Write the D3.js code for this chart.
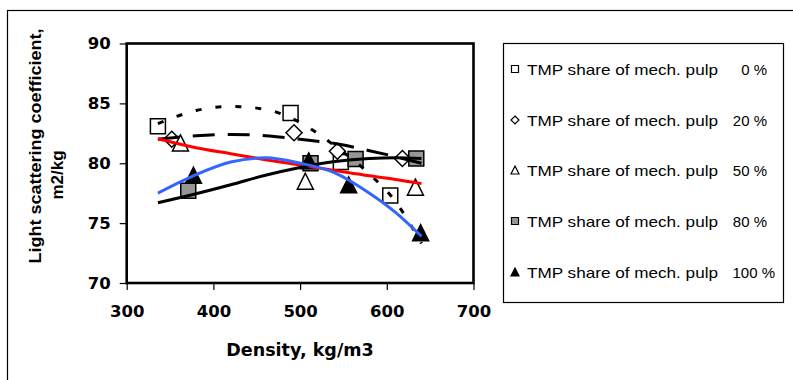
<!DOCTYPE html>
<html><head><meta charset="utf-8">
<script src="https://cdn.jsdelivr.net/npm/d3@7"></script>
<style>body{margin:0;background:#fff}svg{display:block}</style>
</head><body><svg id="c" width="793" height="380"></svg>
<script>
// ---- data ----
const xTicks = [300, 400, 500, 600, 700];
const yTicks = [70, 75, 80, 85, 90];
const seriesNames = ["TMP share of mech. pulp", "TMP share of mech. pulp", "TMP share of mech. pulp", "TMP share of mech. pulp", "TMP share of mech. pulp"];
const seriesShares = ["0 %", "20 %", "50 %", "80 %", "100 %"];

const density0 = [336, 489, 547, 604];
const scatter0 = [83.1, 84.2, 80.1, 77.3];
const density20 = [352, 493, 543, 618];
const scatter20 = [82.0, 82.55, 81.0, 80.4];
const density50 = [362, 506, 633];
const scatter50 = [81.7, 78.5, 78.0];
const density80 = [371, 512, 564, 634];
const scatter80 = [77.7, 80.0, 80.35, 80.4];
const density100 = [377, 510, 556, 639];
const scatter100 = [79.0, 80.2, 78.2, 74.2];

// trend lines
const trendX = [336, 380, 420, 460, 500, 540, 580, 610, 640];
const trend0 = [83.3, 84.4, 84.75, 84.5, 83.4, 81.45, 79.1, 76.8, 73.3];
const trend20 = [82.0, 82.3, 82.4, 82.3, 82.0, 81.65, 81.05, 80.55, 80.0];
const trend50 = [82.05, 81.3, 80.8, 80.3, 79.85, 79.4, 78.95, 78.65, 78.3];
const trend80 = [76.7, 77.45, 78.2, 79.0, 79.65, 80.15, 80.4, 80.45, 80.4];
const trend100 = [77.5, 79.05, 80.1, 80.45, 80.0, 79.2, 77.5, 75.9, 73.9];

const svg = d3.select("#c");
const x = d3.scaleLinear().domain([300, 700]).range([126.7, 473.5]);
const y = d3.scaleLinear().domain([70, 90]).range([283, 43.5]);

// outer chart frame
svg.append("rect").attr("x", 7.5).attr("y", 10.5).attr("width", 820).attr("height", 420)
  .attr("fill", "#fff").attr("stroke", "#000").attr("stroke-width", 1.2);

// axes
const ax = svg.append("g").attr("transform", "translate(0,283)")
  .call(d3.axisBottom(x).tickValues(xTicks).tickSize(7).tickPadding(15).tickFormat(d3.format("d")));
const ay = svg.append("g").attr("transform", "translate(126.7,0)")
  .call(d3.axisLeft(y).tickValues(yTicks).tickSize(7).tickPadding(9).tickFormat(d3.format("d")));
[ax, ay].forEach(g => {
  g.select(".domain").remove();
  g.selectAll("line").attr("stroke", "#000").attr("stroke-width", 1.2);
  g.selectAll("text").attr("fill", "#000").style("font-family", "'DejaVu Sans'")
    .style("font-weight", "bold").style("font-size", "16.5px");
});

// plot frame
svg.append("rect").attr("x", x(300)).attr("y", y(90))
  .attr("width", x(700) - x(300)).attr("height", y(70) - y(90))
  .attr("fill", "none").attr("stroke", "#000").attr("stroke-width", 2.6);

// axis titles
svg.append("text").attr("x", 300).attr("y", 356).attr("text-anchor", "middle")
  .style("font-family", "'DejaVu Sans'").style("font-weight", "bold").style("font-size", "17.5px")
  .text("Density, kg/m3");
svg.append("text").attr("transform", "translate(35,146) rotate(-90)").attr("text-anchor", "middle")
  .attr("dominant-baseline", "central")
  .attr("textLength", 235).attr("lengthAdjust", "spacingAndGlyphs")
  .style("font-family", "'Liberation Sans'").style("font-weight", "bold").style("font-size", "17px")
  .text("Light scattering coefficient,");
svg.append("text").attr("transform", "translate(57,175) rotate(-90)").attr("text-anchor", "middle")
  .attr("dominant-baseline", "central")
  .style("font-family", "'Liberation Sans'").style("font-weight", "bold").style("font-size", "17px")
  .text("m2/kg");

// marker shapes
function shapePath(kind, s) {
  const h = s / 2;
  if (kind === "square") return `M${-h},${-h}H${h}V${h}H${-h}Z`;
  if (kind === "diamond") return `M0,${-h}L${h},0L0,${h}L${-h},0Z`;
  return `M0,${-h}L${h},${h}L${-h},${h}Z`;
}
const series = [
  {xs: density0, ys: scatter0, kind: "square", fill: "#fff", trend: trend0, color: "#000", dash: "6,14", w: 3},
  {xs: density20, ys: scatter20, kind: "diamond", fill: "#fff", trend: trend20, color: "#000", dash: "22,13", w: 3},
  {xs: density50, ys: scatter50, kind: "triangle", fill: "#fff", trend: trend50, color: "#ff0000", dash: null, w: 3},
  {xs: density80, ys: scatter80, kind: "square", fill: "#969696", trend: trend80, color: "#000", dash: null, w: 3},
  {xs: density100, ys: scatter100, kind: "triangle", fill: "#000", trend: trend100, color: "#3366ff", dash: null, w: 3}
];
const plot = svg.append("g");
series.forEach(s => {
  plot.selectAll(null).data(s.xs.map((d, i) => [d, s.ys[i]])).enter().append("path")
    .attr("d", shapePath(s.kind, s.kind === "square" ? 15 : 16))
    .attr("transform", d => `translate(${x(d[0])},${y(d[1])})`)
    .attr("fill", s.fill).attr("stroke", "#000").attr("stroke-width", 1.5);
});
const line = d3.line().x(d => x(d[0])).y(d => y(d[1])).curve(d3.curveMonotoneX);
series.forEach(s => {
  plot.append("path").attr("d", line(trendX.map((d, i) => [d, s.trend[i]])))
    .attr("fill", "none").attr("stroke", s.color).attr("stroke-width", s.w)
    .attr("stroke-dasharray", s.dash);
});

// legend
svg.append("rect").attr("x", 503.5).attr("y", 43.5).attr("width", 280).attr("height", 259)
  .attr("fill", "#fff").attr("stroke", "#000").attr("stroke-width", 1.2);
const legY = [69, 120, 170, 221, 272];
series.forEach((s, i) => {
  svg.append("path").attr("d", shapePath(s.kind, s.kind === "square" ? 7 : 8))
    .attr("transform", `translate(515,${legY[i]})`)
    .attr("fill", s.fill).attr("stroke", "#000").attr("stroke-width", 1.2);
  svg.append("text").attr("x", 527).attr("y", legY[i]).attr("dominant-baseline", "central")
    .style("font-family", "'Liberation Sans'").style("font-size", "15px")
    .attr("textLength", 191).attr("lengthAdjust", "spacingAndGlyphs")
    .text(seriesNames[i]);
  svg.append("text").attr("x", i === 4 ? 775 : 767).attr("y", legY[i]).attr("dominant-baseline", "central")
    .attr("text-anchor", "end")
    .style("font-family", "'Liberation Sans'").style("font-size", "15px")
    .text(seriesShares[i]);
});
</script></body></html>
